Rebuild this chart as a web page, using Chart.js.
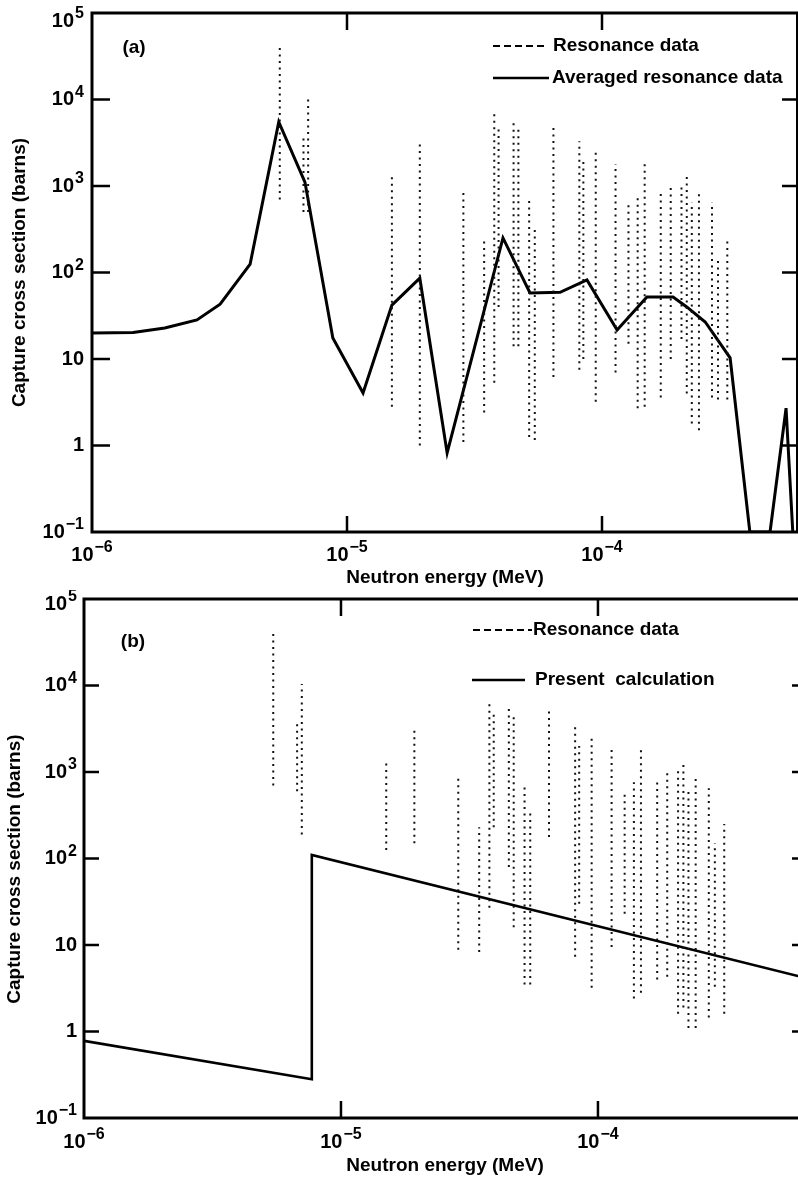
<!DOCTYPE html>
<html>
<head>
<meta charset="utf-8">
<script src="https://cdn.jsdelivr.net/npm/chart.js@4"></script>
<style>
html,body{margin:0;padding:0;background:#fff;overflow:hidden;width:798px;height:1186px}
#chartA{position:absolute;left:0;top:0}
#chartB{position:absolute;left:0;top:590px}
</style>
</head>
<body>
<canvas id="chartA" width="798" height="590"></canvas>
<canvas id="chartB" width="812" height="596"></canvas>
<script>
const FONT = '"Liberation Sans", Arial, Helvetica, sans-serif'

// axis ticks (decades)
const yTicks = [1e5, 1e4, 1e3, 1e2, 10, 1, 0.1]
const yTickLabels = ['10^5', '10^4', '10^3', '10^2', '10', '1', '10^-1']
const xTicks = [1e-6, 1e-5, 1e-4]
const xTickLabels = ['10^-6', '10^-5', '10^-4']

// resonance data: energy (MeV), peak (barns), lower end of the dotted trace in (a) and (b)
const resE = [5.45e-6, 6.75e-6, 7.04e-6, 1.5e-5, 1.93e-5, 2.86e-5, 3.45e-5, 3.78e-5, 3.93e-5, 4.5e-5,
 4.7e-5, 5.18e-5, 5.45e-5, 6.45e-5, 8.15e-5, 8.45e-5, 9.45e-5, 1.13e-4, 1.27e-4, 1.38e-4,
 1.47e-4, 1.7e-4, 1.86e-4, 2.05e-4, 2.15e-4, 2.25e-4, 2.4e-4, 2.7e-4, 2.85e-4, 3.1e-4]
const resPeak = [44000, 4000, 10400, 1400, 3300, 900, 230, 6800, 4800, 5500,
 4500, 700, 350, 5200, 3300, 2000, 2500, 1800, 600, 760,
 1950, 830, 1000, 1050, 1300, 650, 900, 650, 150, 250]
const resLowA = [700, 500, 500, 2.8, 1.0, 1.1, 2.4, 5.3, 40, 14,
 14, 1.25, 1.16, 6.2, 7.5, 10, 3.2, 7, 15, 2.7,
 2.8, 3.6, 10, 17, 4, 1.8, 1.5, 3.6, 3.4, 3.4]
const resLowB = [700, 600, 190, 125, 150, 8.8, 8.3, 27, 230, 80,
 16, 3.5, 3.5, 177, 7.3, 30, 3.2, 9.5, 23, 2.4,
 2.8, 4.0, 4.3, 1.6, 1.9, 1.1, 1.1, 1.45, 3.3, 1.6]

// (a) averaged resonance data
const avgE = [1e-6, 1.45e-6, 1.93e-6, 2.58e-6, 3.18e-6, 4.17e-6, 5.4e-6, 6.84e-6, 8.8e-6, 1.156e-5,
 1.5e-5, 1.93e-5, 2.47e-5, 4.09e-5, 5.22e-5, 6.85e-5, 8.73e-5, 1.146e-4, 1.5e-4, 1.9e-4,
 2.15e-4, 2.54e-4, 3.18e-4, 3.8e-4, 4.56e-4, 5.27e-4, 5.6e-4]
const avgS = [20, 20.2, 22.8, 28.3, 43, 125, 5500, 1110, 17.5, 4.05,
 42, 86, 0.82, 251, 58, 59, 82, 21.6, 52, 52,
 40, 26.8, 10.3, 0.1, 0.1, 2.7, 0.1]

// (b) present calculation
const calcE = [1e-6, 7.7e-6, 7.7e-6, 6.45e-4]
const calcS = [0.78, 0.28, 110, 4.15]

function resPoints(lows){
 const pts = []
 resE.forEach((e, i) => {
  pts.push({x: e, y: lows[i]}, {x: e, y: resPeak[i]}, {x: e, y: null})
 })
 return pts
}

function drawPow(ctx, label, x, y, align){
 const parts = label.split('^')
 const base = parts[0]
 const exp = parts[1] ? parts[1].replace('-', '\u2212') : ''
 ctx.font = 'bold 20px ' + FONT
 const wb = ctx.measureText(base).width
 ctx.font = 'bold 16px ' + FONT
 const we = exp ? ctx.measureText(exp).width + 1 : 0
 const x0 = align === 'right' ? x - wb - we : x - (wb + we) / 2
 ctx.textAlign = 'left'
 ctx.textBaseline = 'middle'
 ctx.font = 'bold 20px ' + FONT
 ctx.fillText(base, x0, y)
 if (exp) {
  ctx.font = 'bold 16px ' + FONT
  ctx.fillText(exp, x0 + wb + 1, y - 7)
 }
}

// frame, inward ticks, tick labels, legend and panel letter
const framePlugin = {
 id: 'frame',
 afterDatasetsDraw(chart, args, o){
  const ctx = chart.ctx, a = chart.chartArea
  const xs = chart.scales.x, ys = chart.scales.y
  ctx.save()
  ctx.strokeStyle = '#000'
  ctx.fillStyle = '#000'
  ctx.lineWidth = 3
  ctx.beginPath()
  ctx.moveTo(a.right, a.top)
  ctx.lineTo(a.left, a.top)
  ctx.lineTo(a.left, a.bottom)
  ctx.lineTo(a.right, a.bottom)
  ctx.stroke()
  if (o.rightLine) {
   ctx.lineWidth = 2
   ctx.beginPath()
   ctx.moveTo(o.rightLine, a.top)
   ctx.lineTo(o.rightLine, a.bottom)
   ctx.stroke()
  }

  ctx.lineWidth = 2.5
  yTicks.slice(1, -1).forEach(v => {
   const p = ys.getPixelForValue(v)
   ctx.beginPath()
   ctx.moveTo(a.left, p); ctx.lineTo(a.left + o.tickL, p)
   ctx.moveTo(a.right, p); ctx.lineTo(a.right - o.tickR, p)
   ctx.stroke()
  })
  xTicks.slice(1).forEach(v => {
   const p = xs.getPixelForValue(v)
   ctx.beginPath()
   ctx.moveTo(p, a.bottom); ctx.lineTo(p, a.bottom - o.tickB)
   ctx.moveTo(p, a.top); ctx.lineTo(p, a.top + o.tickT)
   ctx.stroke()
  })

  yTicks.forEach((v, i) => {
   const p = Math.max(ys.getPixelForValue(v), a.top + o.topLabelShift)
   drawPow(ctx, yTickLabels[i], a.left - o.yGap, p, 'right')
  })
  xTicks.forEach((v, i) => {
   drawPow(ctx, xTickLabels[i], xs.getPixelForValue(v), a.bottom + o.xGap, 'center')
  })

  ctx.font = 'bold 19px ' + FONT
  ctx.textAlign = 'center'
  ctx.textBaseline = 'middle'
  ctx.fillText(o.panel, o.panelX, o.panelY)

  ctx.textAlign = 'left'
  chart.data.datasets.forEach((ds, i) => {
   const L = o.legend[i]
   ctx.lineWidth = L.width
   ctx.setLineDash(L.dash)
   ctx.beginPath()
   ctx.moveTo(L.x1, L.y); ctx.lineTo(L.x2, L.y)
   ctx.stroke()
   ctx.setLineDash([])
   ctx.fillText(ds.label, L.tx, L.y)
  })
  ctx.restore()
 }
}

function makeChart(id, cfg){
 return new Chart(document.getElementById(id), {
  type: 'line',
  data: {datasets: cfg.datasets},
  plugins: [framePlugin],
  options: {
   responsive: false,
   animation: false,
   layout: {padding: {top: cfg.top, right: cfg.right, left: 0, bottom: 0}},
   elements: {point: {radius: 0}, line: {tension: 0}},
   plugins: {
    legend: {display: false},
    tooltip: {enabled: false},
    frame: cfg.frame
   },
   scales: {
    x: {
     type: 'logarithmic', min: 1e-6, max: cfg.xMax,
     grid: {display: false}, border: {display: false},
     ticks: {display: false},
     afterFit: s => { s.height = cfg.xHeight },
     title: {display: true, text: 'Neutron energy (MeV)', color: '#000',
      font: {family: FONT, size: 19, weight: 'bold'}, padding: {top: 0, bottom: cfg.xTitlePad}}
    },
    y: {
     type: 'logarithmic', min: 0.1, max: 1e5,
     grid: {display: false}, border: {display: false},
     ticks: {display: false},
     afterFit: s => { s.width = cfg.yWidth },
     title: {display: true, text: cfg.yTitle, color: '#000',
      font: {family: FONT, size: 19, weight: 'bold'}, padding: {top: cfg.yTitlePad, bottom: 0}}
    }
   }
  }
 })
}

// (a)
makeChart('chartA', {
 top: 13, right: 0, yWidth: 92, xHeight: 58, xMax: 5.87e-4,
 xTitlePad: 1, yTitlePad: 8,
 yTitle: 'Capture cross section (barns)',
 datasets: [
  {label: 'Resonance data', data: resPoints(resLowA), borderColor: '#111',
   borderWidth: 2, borderDash: [2, 4.5], spanGaps: false},
  {label: 'Averaged resonance data', data: avgE.map((e, i) => ({x: e, y: avgS[i]})),
   borderColor: '#000', borderWidth: 3}
 ],
 frame: {
  tickL: 18, tickR: 16, tickB: 16, tickT: 17, yGap: 8, xGap: 23, topLabelShift: 8,
  rightLine: 797, panel: '(a)', panelX: 134, panelY: 48,
  legend: [
   {x1: 493, x2: 548, y: 46, tx: 553, width: 2, dash: [7, 4]},
   {x1: 493, x2: 549, y: 78, tx: 552, width: 2.5, dash: []}
  ]
 }
})

// (b)
makeChart('chartB', {
 top: 9, right: 6, yWidth: 84, xHeight: 68, xMax: 6.45e-4,
 xTitlePad: 9, yTitlePad: 3,
 yTitle: 'Capture cross section (barns)    ',
 datasets: [
  {label: 'Resonance data', data: resPoints(resLowB), borderColor: '#111',
   borderWidth: 2, borderDash: [2, 4.5], spanGaps: false},
  {label: 'Present  calculation', data: calcE.map((e, i) => ({x: e, y: calcS[i]})),
   borderColor: '#000', borderWidth: 2.6}
 ],
 frame: {
  tickL: 15, tickR: 14, tickB: 17, tickT: 17, yGap: 7, xGap: 24, topLabelShift: 5,
  rightLine: 0, panel: '(b)', panelX: 133, panelY: 52,
  legend: [
   {x1: 473, x2: 532, y: 40, tx: 533, width: 2, dash: [7, 4]},
   {x1: 472, x2: 525, y: 90, tx: 535, width: 2.5, dash: []}
  ]
 }
})
</script>
</body>
</html>
